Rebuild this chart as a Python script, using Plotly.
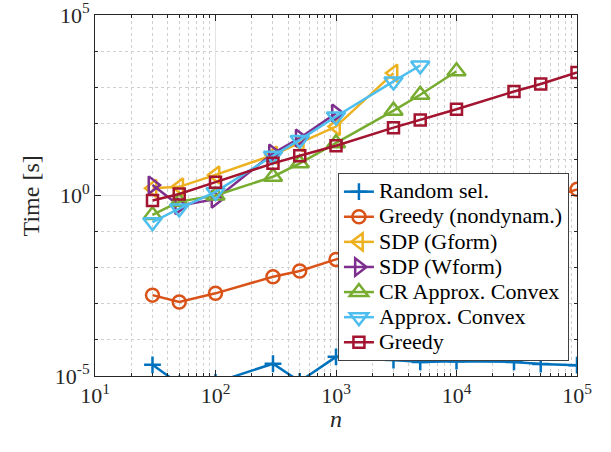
import plotly.graph_objects as go

n_vals = [30, 50, 100, 300, 500, 1000, 3000, 5000, 10000, 30000, 50000, 100000]

# log10(time) values
random_sel = [-4.69, -5.22, -5.18, -4.66, -5.15, -4.47, -4.56, -4.61, -4.59, -4.61, -4.67, -4.70]
greedy_nondyn = [-2.76, -2.95, -2.71, -2.25, -2.09, -1.77, -1.35, -1.10, -0.80, -0.35, -0.15, 0.17]
sdp_gform = [0.20, 0.24, 0.57, 1.12, 1.46, 1.91, 3.39]
sdp_wform = [0.29, -0.28, -0.10, 1.17, 1.59, 2.28]
cr_approx = [-0.54, -0.17, 0.00, 0.52, 0.89, 1.45, 2.35, 2.79, 3.44]
approx_convex = [-0.74, -0.36, 0.10, 1.10, 1.54, 2.19, 3.16, 3.60]
greedy = [-0.14, 0.04, 0.37, 0.89, 1.10, 1.38, 1.88, 2.09, 2.39, 2.88, 3.09, 3.41]

series_names = ["Random sel.", "Greedy (nondynam.)", "SDP (Gform)", "SDP (Wform)",
                "CR Approx. Convex", "Approx. Convex", "Greedy"]
series_values = [random_sel, greedy_nondyn, sdp_gform, sdp_wform, cr_approx, approx_convex, greedy]
series_colors = ["#0072BD", "#D95319", "#EDB120", "#7E2F8E", "#77AC30", "#4DBEEE", "#A2142F"]
series_symbols = ["cross-thin-open", "circle-open", "triangle-left-open", "triangle-right-open",
                  "triangle-up-open", "triangle-down-open", "square-open"]
series_msizes = [12, 13, 15, 15, 16, 16, 11]

y_tickvals = [1e-5, 1e0, 1e5]
y_ticktext = ["10<sup>-5</sup>", "10<sup>0</sup>", "10<sup>5</sup>"]
x_tickvals = [1e1, 1e2, 1e3, 1e4, 1e5]
x_ticktext = ["10<sup>1</sup>", "10<sup>2</sup>", "10<sup>3</sup>", "10<sup>4</sup>", "10<sup>5</sup>"]

fig = go.Figure()
for name, vals, color, sym, msize in zip(series_names, series_values, series_colors,
                                          series_symbols, series_msizes):
    xs = n_vals[:len(vals)]
    ys = [10 ** v for v in vals]
    fig.add_trace(go.Scatter(
        x=xs, y=ys, name="<span style='font-size:22px'>" + name + "</span>",
        mode="lines+markers",
        line=dict(color=color, width=2.5),
        marker=dict(symbol=sym, size=msize, color=color, line=dict(color=color, width=2.5)),
    ))

font_family = "Liberation Serif"
axis_color = "#262626"

fig.update_layout(
    width=611, height=452,
    margin=dict(l=95, r=34, t=15, b=76),
    paper_bgcolor="white", plot_bgcolor="white",
    font=dict(family=font_family, size=22, color=axis_color),
    showlegend=True,
    legend=dict(
        x=0.504, y=0.562, xanchor="left", yanchor="top",
        bgcolor="white", bordercolor="#404040", borderwidth=1,
        font=dict(family=font_family, size=17, color="black"),
        itemwidth=30, tracegroupgap=0,
    ),
    annotations=[
        dict(text="Time [s]", textangle=-90, xref="paper", yref="paper",
             x=-0.133, y=0.5, xanchor="center", yanchor="middle", showarrow=False,
             font=dict(family=font_family, size=24, color=axis_color)),
        dict(text="<i>n</i>", xref="paper", yref="paper",
             x=0.5, y=-0.118, xanchor="center", yanchor="middle", showarrow=False,
             font=dict(family=font_family, size=24, color=axis_color)),
    ],
)

fig.update_xaxes(
    type="log", range=[1, 5], automargin=False,
    tickvals=x_tickvals, ticktext=x_ticktext, ticklabeloverflow="allow",
    showline=True, linecolor=axis_color, linewidth=1, mirror="ticks",
    ticks="inside", ticklen=6, tickcolor=axis_color,
    showgrid=True, gridcolor="#e3e3e3", gridwidth=1,
    zeroline=False,
    tickfont=dict(family=font_family, size=22, color=axis_color),
    minor=dict(dtick="D1", ticks="inside", ticklen=3, tickcolor=axis_color,
               showgrid=True, gridcolor="#cfcfcf", griddash="dot", gridwidth=1),
)
fig.update_yaxes(
    type="log", range=[-5, 5], automargin=False,
    tickvals=y_tickvals, ticktext=y_ticktext, ticklabeloverflow="allow",
    showline=True, linecolor=axis_color, linewidth=1, mirror="ticks",
    ticks="inside", ticklen=6, tickcolor=axis_color,
    showgrid=True, gridcolor="#e3e3e3", gridwidth=1,
    zeroline=False,
    tickfont=dict(family=font_family, size=22, color=axis_color),
    minor=dict(dtick=1, ticks="inside", ticklen=3, tickcolor=axis_color,
               showgrid=True, gridcolor="#cfcfcf", griddash="dot", gridwidth=1),
)

fig.write_html("out.html")
